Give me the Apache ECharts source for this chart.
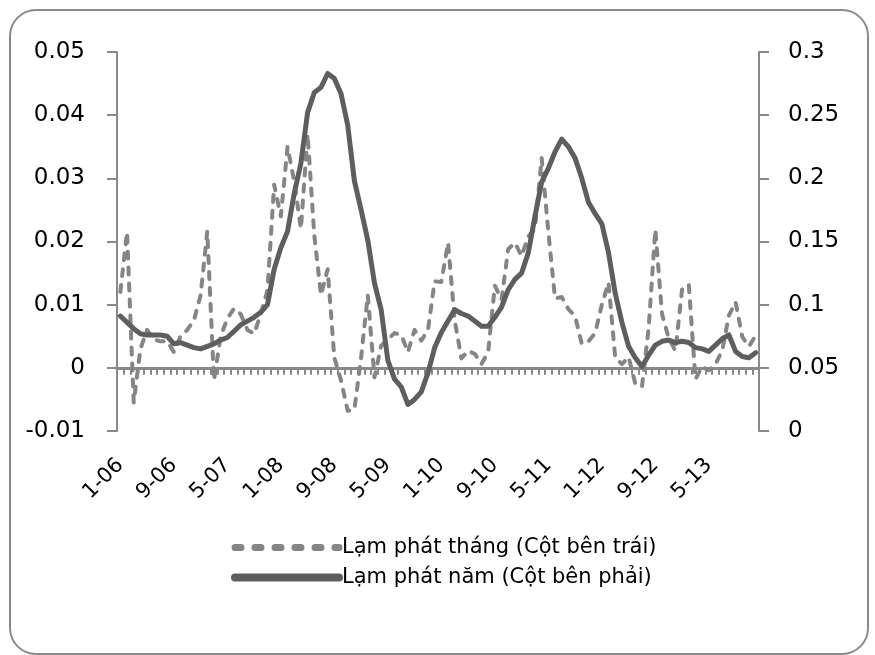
<!DOCTYPE html>
<html>
<head>
<meta charset="utf-8">
<title>Lạm phát</title>
<script src="https://cdn.jsdelivr.net/npm/echarts@6/dist/echarts.min.js"></script>
<style>
  html, body { margin: 0; padding: 0; background: #fff; }
  #chart { width: 875px; height: 655px; }
</style>
</head>
<body>
<div id="chart"></div>
<script>
// nhãn tháng 1-06 ... 12-13
var years = ['06', '07', '08', '09', '10', '11', '12', '13'];
var months = [];
for (var y = 0; y < years.length; y++) {
    for (var m = 1; m <= 12; m++) {
        months.push(m + '-' + years[y]);
    }
}

// lạm phát tháng (trục trái)
var monthly = [
    0.012, 0.0215, -0.0055, 0.003, 0.006, 0.0045, 0.0042, 0.0042, 0.0025, 0.005, 0.006, 0.0075,
    0.0115, 0.0216, -0.002, 0.005, 0.0078, 0.0094, 0.0085, 0.006, 0.0054, 0.0085, 0.0123, 0.029,
    0.024, 0.035, 0.0295, 0.022, 0.037, 0.021, 0.0115, 0.0156, 0.0016, -0.002, -0.0068, -0.0066,
    0.0016, 0.0115, -0.0015, 0.0035, 0.0045, 0.0055, 0.0052, 0.0025, 0.006, 0.0043, 0.006, 0.0137,
    0.0136, 0.0198, 0.0075, 0.0015, 0.0027, 0.0022, 0.0006, 0.0025, 0.013, 0.0108, 0.0188, 0.0198,
    0.0177, 0.0208, 0.022, 0.0332, 0.0215, 0.011, 0.0112, 0.0093, 0.0082, 0.0038, 0.0042, 0.0055,
    0.010, 0.0135, 0.0016, 0.0006, 0.0017, -0.0025, -0.003, 0.0063, 0.0219, 0.0085, 0.0047, 0.0027,
    0.0124, 0.0132, -0.0018, 0.0002, -0.0004, 0.0006, 0.0027, 0.0083, 0.0104, 0.0049, 0.0034, 0.0051
];

// lạm phát năm (trục phải)
var yearly = [
    0.091, 0.086, 0.081, 0.077, 0.076, 0.076, 0.076, 0.075, 0.069, 0.070, 0.068, 0.066,
    0.065, 0.067, 0.069, 0.072, 0.074, 0.079, 0.084, 0.087, 0.090, 0.094, 0.100, 0.128,
    0.145, 0.158, 0.188, 0.212, 0.252, 0.268, 0.272, 0.283, 0.279, 0.267, 0.242, 0.198,
    0.175, 0.151, 0.117, 0.096, 0.056, 0.041, 0.035, 0.021, 0.025, 0.031, 0.046, 0.066,
    0.078, 0.087, 0.096, 0.093, 0.091, 0.087, 0.083, 0.083, 0.090, 0.098, 0.112, 0.120,
    0.125, 0.141, 0.170, 0.197, 0.208, 0.221, 0.231, 0.225, 0.216, 0.200, 0.181, 0.172,
    0.164, 0.141, 0.109, 0.086, 0.067, 0.058, 0.051, 0.060, 0.068, 0.071, 0.072, 0.070,
    0.071, 0.070, 0.066, 0.065, 0.063, 0.068, 0.073, 0.076, 0.063, 0.059, 0.058, 0.062
];

var seriesNames = ['Lạm phát tháng (Cột bên trái)', 'Lạm phát năm (Cột bên phải)'];

var axisColor = '#898989';
var fontName = 'DejaVu Sans';

var myChart = echarts.init(document.getElementById('chart'), null, { renderer: 'canvas' });

myChart.setOption({
    animation: false,
    backgroundColor: '#fff',
    textStyle: { fontFamily: fontName },
    // khung bo góc
    graphic: [{
        type: 'rect',
        shape: { x: 10, y: 10, width: 858, height: 644, r: 26 },
        style: { fill: 'none', stroke: '#8a8a8a', lineWidth: 2 },
        silent: true
    }],
    grid: { left: 117, right: 116, top: 52, bottom: 224 },
    legend: {
        orient: 'vertical',
        left: 226,
        top: 532,
        itemWidth: 104,
        itemHeight: 14,
        itemGap: 9,
        textStyle: { fontSize: 21, color: '#000', fontFamily: fontName, padding: [0, 0, 0, -2] },
        itemStyle: { opacity: 0 },
        lineStyle: { width: 7, cap: 'round' },
        data: [
            { name: seriesNames[0], lineStyle: { width: 7, type: [6, 14], cap: 'round' } },
            { name: seriesNames[1], lineStyle: { width: 8, cap: 'round' } }
        ]
    },
    xAxis: [
        {
            // trục nằm tại 0 của trục trái
            type: 'category',
            data: months,
            boundaryGap: true,
            axisLine: { onZero: true, onZeroAxisIndex: 0, lineStyle: { color: axisColor, width: 3 } },
            axisTick: { show: true, interval: 0, length: 7, lineStyle: { color: axisColor, width: 2 } },
            axisLabel: { show: false },
            splitLine: { show: false }
        },
        {
            type: 'category',
            data: months,
            position: 'bottom',
            boundaryGap: true,
            axisLine: { show: false, onZero: false },
            axisTick: { show: false },
            axisLabel: {
                interval: 7,
                rotate: 45,
                margin: 31,
                fontSize: 21,
                color: '#000',
                fontFamily: fontName
            },
            splitLine: { show: false }
        }
    ],
    yAxis: [
        {
            type: 'value',
            position: 'left',
            min: -0.01,
            max: 0.05,
            interval: 0.01,
            axisLine: { show: true, lineStyle: { color: axisColor, width: 2 } },
            axisTick: { show: true, length: 10, lineStyle: { color: axisColor, width: 2 } },
            axisLabel: {
                margin: 32,
                fontSize: 23,
                color: '#000',
                fontFamily: fontName,
                formatter: function (v) { return String(parseFloat(v.toFixed(3))); }
            },
            splitLine: { show: false }
        },
        {
            type: 'value',
            position: 'right',
            min: 0,
            max: 0.3,
            interval: 0.05,
            axisLine: { show: true, lineStyle: { color: axisColor, width: 2 } },
            axisTick: { show: true, length: 10, lineStyle: { color: axisColor, width: 2 } },
            axisLabel: {
                margin: 29,
                fontSize: 23,
                color: '#000',
                fontFamily: fontName,
                formatter: function (v) { return String(parseFloat(v.toFixed(3))); }
            },
            splitLine: { show: false }
        }
    ],
    series: [
        {
            name: seriesNames[0],
            type: 'line',
            xAxisIndex: 0,
            yAxisIndex: 0,
            data: monthly,
            symbol: 'none',
            smooth: false,
            z: 2,
            lineStyle: { color: '#858585', width: 4, type: [7, 9], cap: 'round', join: 'round' },
            itemStyle: { color: '#858585' }
        },
        {
            name: seriesNames[1],
            type: 'line',
            xAxisIndex: 0,
            yAxisIndex: 1,
            data: yearly,
            symbol: 'none',
            smooth: false,
            z: 3,
            lineStyle: { color: '#5e5e5e', width: 5, cap: 'round', join: 'round' },
            itemStyle: { color: '#5e5e5e' }
        }
    ]
});
</script>
</body>
</html>
